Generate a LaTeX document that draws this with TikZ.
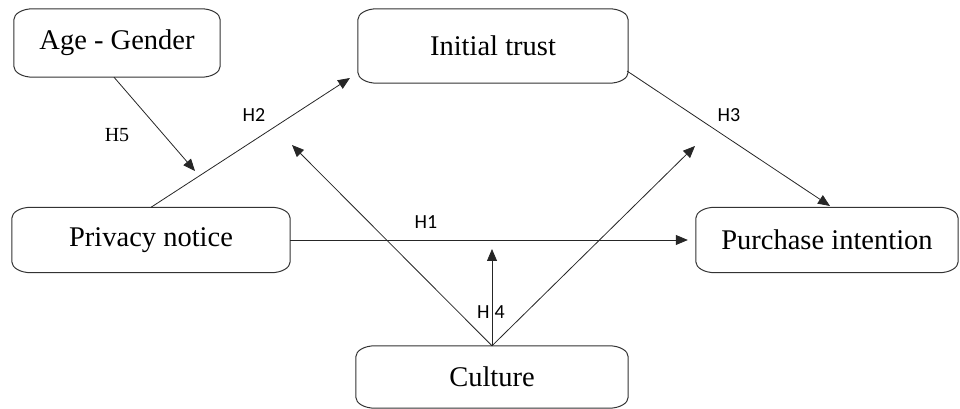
\documentclass[tikz,border=0pt]{standalone}
\usepackage{fontspec}
\setmainfont{Liberation Serif}
\newfontfamily\hfont{Carlito}
\usetikzlibrary{arrows.meta}
\tikzset{
  boxnode/.style={draw=none, inner sep=0pt, font=\fontsize{28.5}{34}\selectfont},
  boxline/.style={draw=black!80, line width=1pt},
  conn/.style={draw=black!85, line width=0.8pt, -{Triangle[length=12pt,width=10pt]}},
  hlab/.style={font=\hfont\fontsize{20}{24}\selectfont, inner sep=0pt},
  slab/.style={font=\fontsize{20}{24}\selectfont, inner sep=0pt}
}
\newcommand\ebox[1]{%
  \draw[boxline] ([xshift=19pt]#1.north west) -- ([xshift=-19pt]#1.north east)
    arc[start angle=90,end angle=0,x radius=19pt,y radius=11pt]
    -- ([yshift=11pt]#1.south east)
    arc[start angle=0,end angle=-90,x radius=19pt,y radius=11pt]
    -- ([xshift=19pt]#1.south west)
    arc[start angle=270,end angle=180,x radius=19pt,y radius=11pt]
    -- ([yshift=-11pt]#1.north west)
    arc[start angle=180,end angle=90,x radius=19pt,y radius=11pt] -- cycle;}
\begin{document}
\begin{tikzpicture}[x=1pt,y=1pt]
\useasboundingbox (0,0) rectangle (960,409);
% boxes
\node[boxnode, minimum width=206pt, minimum height=68pt] (ag) at (117,366) {Age - Gender};
\node[boxnode, minimum width=270pt, minimum height=74pt] (it) at (493,363) {Initial trust};
\node[boxnode, minimum width=278pt, minimum height=65pt] (pn) at (151,169) {Privacy notice};
\node[boxnode, minimum width=262pt, minimum height=65pt] (pi) at (827,169) {Purchase intention};
\node[boxnode, minimum width=272pt, minimum height=62pt] (cu) at (492,32) {Culture};
\ebox{ag}\ebox{it}\ebox{pn}\ebox{pi}\ebox{cu}
% free ends
\coordinate (h2end) at (350,331);
\coordinate (h5end) at (195,238);
\coordinate (c1) at (292,264);
\coordinate (c2) at (695,263);
\coordinate (h4end) at (492,160);
\coordinate (h3s) at (627,338);
\coordinate (h3e) at (830,203);
% connectors
\draw[conn] (pn.north) -- (h2end);
\draw[conn] (ag.south) ++(-3,0) -- (h5end);
\draw[conn] (pn.east) -- ([xshift=-8pt]pi.west);
\draw[conn] (h3s) -- (h3e);
\draw[conn] (cu.north) -- (c1);
\draw[conn] (cu.north) -- (c2);
\draw[conn] (cu.north) -- (h4end);
% labels
\node[slab] (l5) at (117,274) {H5};
\node[hlab] (l2) at (254,294) {H2};
\node[hlab] (l3) at (729,294) {H3};
\node[hlab] (l1) at (426,187) {H1};
\node[hlab] (l4) at (491,97) {H\hspace{5pt}4};
\end{tikzpicture}
\end{document}
